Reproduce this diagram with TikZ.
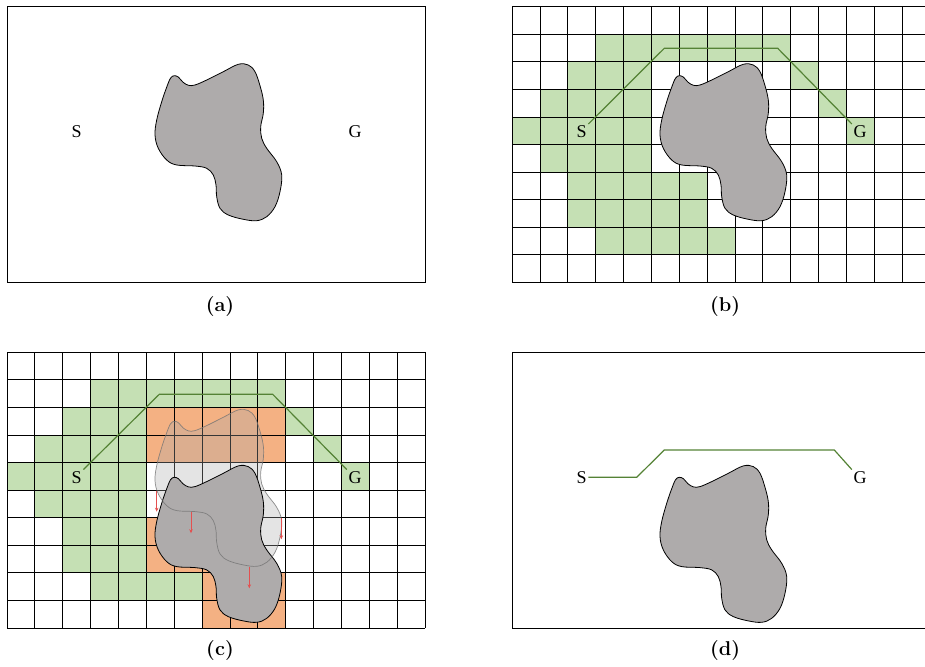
\documentclass[tikz,border=0pt]{standalone}
\usepackage{fontspec}
\newfontfamily\lblfont{Liberation Serif}
\usetikzlibrary{arrows.meta}
\definecolor{cellgreen}{RGB}{197,224,180}
\definecolor{cellorange}{RGB}{244,177,131}
\definecolor{pathgreen}{RGB}{84,130,53}
\definecolor{blobgray}{RGB}{174,171,171}
\definecolor{ghostgray}{RGB}{170,170,170}
\definecolor{arrowred}{RGB}{228,80,80}
\newcommand\cellsrow[3]{\foreach \c in {#3} \fill[#1] (\c,#2) rectangle ++(1,1);}
\newcommand\gridlines{%
  \foreach \i in {0,...,15} \draw[gridline] (\i,0) -- (\i,10);
  \foreach \j in {0,...,10} \draw[gridline] (0,\j) -- (15,\j);}
\newcommand\greencells{%
  \cellsrow{cellgreen}{1}{3,...,9}
  \cellsrow{cellgreen}{2}{2,3,4,10}
  \cellsrow{cellgreen}{3}{1,2,3,4,11}
  \cellsrow{cellgreen}{4}{0,...,4,12}
  \cellsrow{cellgreen}{5}{1,...,4}
  \cellsrow{cellgreen}{6}{2,...,6}
  \cellsrow{cellgreen}{7}{2,...,6}
  \cellsrow{cellgreen}{8}{3,...,7}}
\tikzset{
  blob/.pic={\path[pic actions] plot[smooth cycle,tension=0.6] coordinates {
    (163.5,71.5) (167.3,69) (171.5,70.5) (176,75.5) (181.5,78.6) (188,78.3)
    (199.7,73.3) (216.3,65) (231.3,57.6) (241.3,58.3) (248,65) (253,79)
    (256.3,93.3) (256.3,106.6) (253.7,120) (254.7,131.6) (259.7,141.6)
    (269.7,155) (274.7,168.3) (273,185) (268,200) (259.7,210) (249.7,214)
    (236.3,212.6) (221.3,208.3) (213,201.6) (209.7,190) (209,178.3)
    (206.3,168.3) (199.7,161.6) (188,159.3) (169.7,158.3) (159.7,153.3)
    (151.3,141.6) (148,128.3) (149.7,113.3) (154.7,95) (159.5,81)};},
  blobstyle/.style={fill=blobgray,draw=black,line width=0.8pt},
  ghostfill/.style={fill=ghostgray,fill opacity=0.32,draw=none},
  ghostline/.style={draw=black!55,draw opacity=0.8,line width=0.7pt},
  lbl/.style={font=\lblfont\fontsize{18}{20}\selectfont,inner sep=1.5pt},
  captext/.style={font=\bfseries\fontsize{20}{22}\selectfont},
  panel/.style={draw=black,line width=0.8pt},
  gridline/.style={black,line width=0.75pt},
  route/.style={draw=pathgreen,line width=1.2pt},
  shiftarrow/.style={draw=arrowred,line width=0.75pt,-{Stealth[length=4pt,width=3.5pt]}},
  cellunits/.style={x=27.867pt,y=-27.56pt}
}
\begin{document}
\begin{tikzpicture}[x=1pt,y=-1pt]
\useasboundingbox (0,0) rectangle (925,666);
\clip (0,0) rectangle (925,666);

% ---------- (a) ----------
\begin{scope}[shift={(7,6.7)}]
  \draw[panel] (0,0) rectangle (418,275.6);
  \pic[blobstyle] at (0,0) {blob};
  \node[lbl] (Sa) at (69.7,125) {S};
  \node[lbl] (Ga) at (348,125) {G};
\end{scope}
\node[captext] (capa) at (220,307) {(a)};

% ---------- (b) ----------
\begin{scope}[shift={(512,6.7)}]
  \begin{scope}[cellunits]
    \greencells
    \gridlines
  \end{scope}
  \pic[blobstyle] at (0,0) {blob};
  \node[lbl] (Sb) at (69.7,125) {S};
  \node[lbl] (Gb) at (348,125) {G};
  \coordinate (b1) at (152.3,41.6);
  \coordinate (b2) at (265.7,41.6);
  \draw[route] (Sb.north east) -- (b1) -- (b2) -- (Gb.north west);
\end{scope}
\node[captext] (capb) at (725,307) {(b)};

% ---------- (c) ----------
\begin{scope}[shift={(7,352.3)}]
  \begin{scope}[cellunits]
    \greencells
    \cellsrow{cellorange}{2}{5,...,9}
    \cellsrow{cellorange}{3}{5,...,9}
    \cellsrow{cellorange}{6}{5,...,8}
    \cellsrow{cellorange}{7}{5,...,8}
    \cellsrow{cellorange}{8}{7,8,9}
    \cellsrow{cellorange}{9}{7,8,9}
    \gridlines
  \end{scope}
  \pic[ghostfill] at (0,0) {blob};
  \pic[blobstyle] at (0,56) {blob};
  \pic[ghostline] at (0,0) {blob};
  \coordinate (r1a) at (149.7,138.4); \coordinate (r1b) at (149.7,159.4);
  \coordinate (r2a) at (184,159.4);   \coordinate (r2b) at (184,181);
  \coordinate (r3a) at (274.3,166);   \coordinate (r3b) at (274.3,187);
  \coordinate (r4a) at (242.3,214.4); \coordinate (r4b) at (242.3,236);
  \draw[shiftarrow] (r1a) -- (r1b);
  \draw[shiftarrow] (r2a) -- (r2b);
  \draw[shiftarrow] (r3a) -- (r3b);
  \draw[shiftarrow] (r4a) -- (r4b);
  \node[lbl] (Sc) at (69.7,125) {S};
  \node[lbl] (Gc) at (348,125) {G};
  \coordinate (c1) at (152.3,42);
  \coordinate (c2) at (265.7,42);
  \draw[route] (Sc.north east) -- (c1) -- (c2) -- (Gc.north west);
\end{scope}
\node[captext] (capc) at (220,651) {(c)};

% ---------- (d) ----------
\begin{scope}[shift={(512,352.3)}]
  \draw[panel] (0,0) rectangle (418,275.6);
  \pic[blobstyle] at (0,56) {blob};
  \node[lbl] (Sd) at (69.7,125) {S};
  \node[lbl] (Gd) at (348,125) {G};
  \coordinate (d1) at (124.7,125);
  \coordinate (d2) at (152.3,97.7);
  \coordinate (d3) at (322.3,97.7);
  \draw[route] (Sd.east) -- (d1) -- (d2) -- (d3) -- (Gd.north west);
\end{scope}
\node[captext] (capd) at (725,651) {(d)};
\end{tikzpicture}
\end{document}
